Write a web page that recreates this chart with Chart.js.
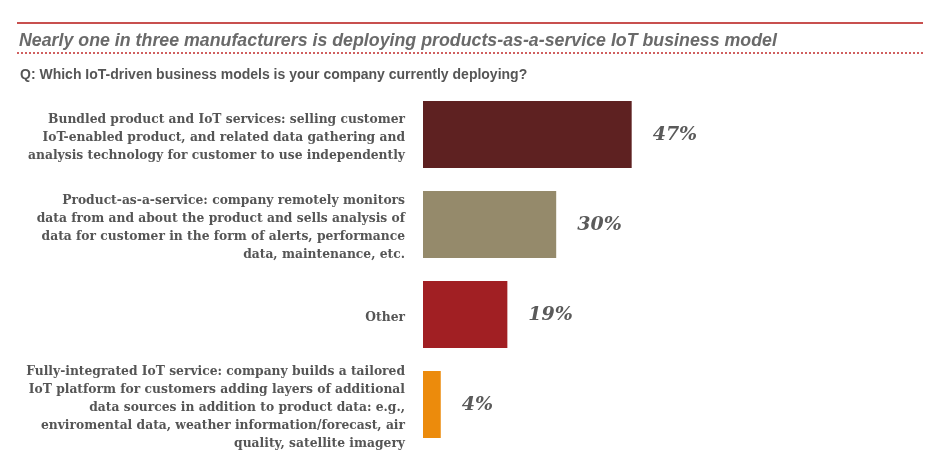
<!DOCTYPE html>
<html>
<head>
<meta charset="utf-8">
<script src="https://cdn.jsdelivr.net/npm/chart.js@4/dist/chart.umd.min.js"></script>
<style>
  html, body { margin: 0; padding: 0; background: #fff; }
  #wrap { position: relative; width: 938px; height: 463px; overflow: hidden; }
  #chartBox { position: absolute; left: 0; top: 0; width: 938px; height: 463px; }
  .rule { position: absolute; left: 17px; width: 906px; }
  #topRule { top: 22px; height: 0; border-top: 2px solid #c8504f; }
  #dotRule { top: 52px; height: 0; border-top: 2px dotted #d06060; }
  #title { position: absolute; left: 19px; top: 30px; font: italic bold 17.8px "Liberation Sans", Arial, sans-serif; color: #6a6a6a; white-space: nowrap; line-height: 21px; }
  #sub { position: absolute; left: 20px; top: 66px; font: bold 14px "Liberation Sans", Arial, sans-serif; color: #555; white-space: nowrap; line-height: 17px; }
</style>
</head>
<body>
<div id="wrap">
  <div id="chartBox"><canvas id="c"></canvas></div>
  <div class="rule" id="topRule"></div>
  <div id="title">Nearly one in three manufacturers is deploying products-as-a-service IoT business model</div>
  <div class="rule" id="dotRule"></div>
  <div id="sub">Q: Which IoT-driven business models is your company currently deploying?</div>
</div>
<script>
const categories = [
  ["Bundled product and IoT services: selling customer",
   "IoT-enabled product, and related data gathering and",
   "analysis technology for customer to use independently"],
  ["Product-as-a-service: company remotely monitors",
   "data from and about the product and sells analysis of",
   "data for customer in the form of alerts, performance",
   "data, maintenance, etc."],
  ["Other"],
  ["Fully-integrated IoT service: company builds a tailored",
   "IoT platform for customers adding layers of additional",
   "data sources in addition to product data: e.g.,",
   "enviromental data, weather information/forecast, air",
   "quality, satellite imagery"]
];
const values = [47, 30, 19, 4];
const valueLabels = ["47%", "30%", "19%", "4%"];
const barColors = ["#5e2121", "#958a6b", "#a11f23", "#ec8b0c"];

const valueLabelPlugin = {
  id: 'valueLabels',
  afterDatasetsDraw(chart) {
    const ctx = chart.ctx;
    const meta = chart.getDatasetMeta(0);
    ctx.save();
    ctx.font = 'italic bold 19px "DejaVu Serif", Georgia, serif';
    ctx.fillStyle = '#5a5a5a';
    ctx.textAlign = 'left';
    ctx.textBaseline = 'middle';
    meta.data.forEach((bar, i) => {
      ctx.fillText(valueLabels[i], bar.x + 21, bar.y + 1);
    });
    ctx.restore();
  }
};

new Chart(document.getElementById('c'), {
  type: 'bar',
  data: {
    labels: categories,
    datasets: [{
      data: values,
      backgroundColor: barColors,
      borderWidth: 0,
      barPercentage: 0.744,
      categoryPercentage: 1
    }]
  },
  options: {
    indexAxis: 'y',
    responsive: true,
    maintainAspectRatio: false,
    animation: false,
    layout: { padding: { top: 89.5, bottom: 13.5, left: 0, right: 71 } },
    plugins: { legend: { display: false }, tooltip: { enabled: false } },
    scales: {
      x: { display: false, min: 0, max: 100 },
      y: {
        grid: { display: false, drawTicks: false },
        border: { display: false },
        ticks: {
          autoSkip: false,
          padding: 18,
          labelOffset: 3,
          color: '#555',
          font: { family: '"DejaVu Serif", Georgia, serif', weight: 'bold', size: 12.3, lineHeight: 18 / 12.3 }
        },
        afterFit(scale) {
          scale.width = 423;
          scale.paddingTop = 0;
          scale.paddingBottom = 0;
        }
      }
    }
  },
  plugins: [valueLabelPlugin]
});
</script>
</body>
</html>
